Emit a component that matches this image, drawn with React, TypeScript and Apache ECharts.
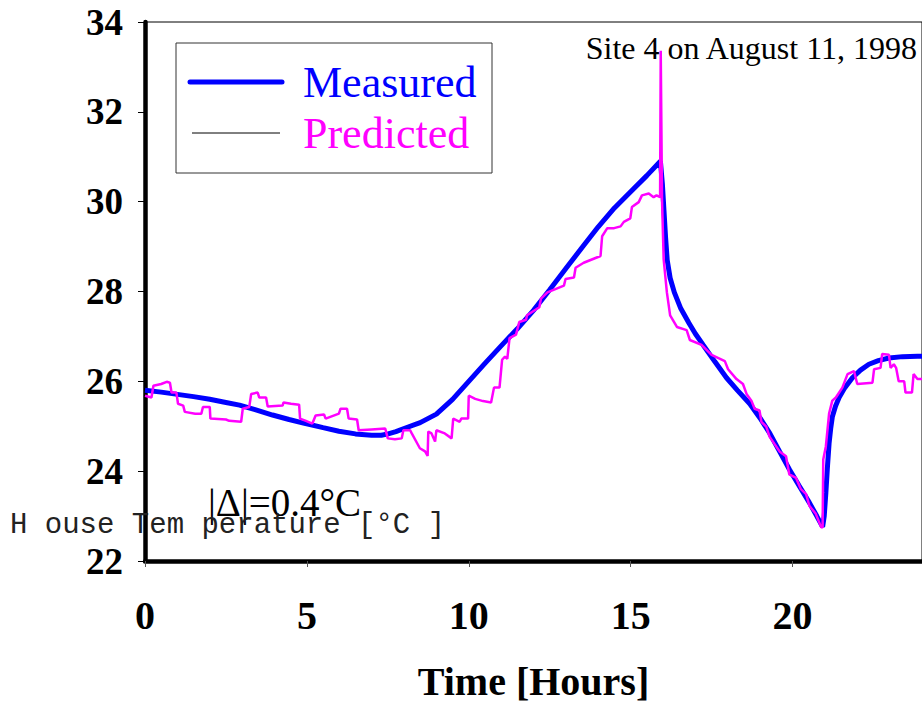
import React, { useEffect, useRef } from "react";
import * as echarts from "echarts";

// Time [hours] and temperature [°C]
const measured: [number, number][] = [
  [0, 25.8], [0.5, 25.76], [1, 25.71], [1.5, 25.66], [2, 25.6], [2.5, 25.53], [2.92, 25.47],
  [3.4, 25.37], [3.94, 25.25], [4.45, 25.15], [4.96, 25.06], [5.5, 24.97], [5.99, 24.89],
  [6.5, 24.83], [7.0, 24.8], [7.3, 24.8], [7.51, 24.83], [7.75, 24.88], [8.0, 24.95],
  [8.5, 25.08], [9.0, 25.27], [9.5, 25.6], [10.0, 26.0], [10.5, 26.4], [11.0, 26.79],
  [11.5, 27.17], [12.0, 27.58], [12.5, 28.04], [13.0, 28.51], [13.5, 28.98], [14.0, 29.44],
  [14.5, 29.86], [15.0, 30.22], [15.5, 30.58], [15.92, 30.9], [15.98, 30.4], [16.03, 29.8],
  [16.08, 29.2], [16.13, 28.7], [16.22, 28.3], [16.35, 27.98], [16.55, 27.62], [16.8, 27.3],
  [17.0, 27.06], [17.24, 26.81], [17.6, 26.44], [17.96, 26.08], [18.3, 25.8], [18.68, 25.5],
  [19.0, 25.18], [19.3, 24.84], [19.6, 24.44], [19.91, 24.03], [20.2, 23.68], [20.52, 23.3],
  [20.75, 23.0], [20.93, 22.76], [20.98, 23.0], [21.03, 23.52], [21.08, 24.1], [21.13, 24.62],
  [21.18, 24.95], [21.23, 25.21], [21.33, 25.45], [21.44, 25.64], [21.6, 25.84], [21.85, 26.08],
  [22.1, 26.25], [22.36, 26.38], [22.65, 26.46], [22.98, 26.52], [23.4, 26.55], [23.86, 26.56],
  [24, 26.56],
];

const predicted: [number, number][] = [
  [0, 25.68], [0.2, 25.64], [0.26, 25.9], [0.5, 25.94], [0.67, 25.99], [0.77, 25.97], [0.82, 25.75],
  [0.97, 25.75], [1.02, 25.5], [1.18, 25.46], [1.23, 25.32], [1.55, 25.28], [1.74, 25.28], [1.79, 25.43],
  [2.0, 25.43], [2.02, 25.17], [2.5, 25.15], [2.6, 25.12], [2.97, 25.1], [3.02, 25.39], [3.22, 25.43],
  [3.28, 25.72], [3.48, 25.75], [3.53, 25.64], [3.74, 25.64], [3.79, 25.44], [4.25, 25.46], [4.28, 25.53],
  [4.51, 25.5], [4.76, 25.48], [4.79, 25.17], [4.97, 25.12], [5.17, 25.06], [5.27, 25.24], [5.53, 25.26],
  [5.58, 25.17], [5.99, 25.28], [6.04, 25.39], [6.24, 25.39], [6.29, 25.17], [6.55, 25.15], [6.6, 24.91],
  [7.0, 24.93], [7.42, 24.95], [7.5, 24.73], [7.72, 24.71], [7.93, 24.73], [7.98, 24.91], [8.19, 24.91],
  [8.24, 24.84], [8.49, 24.51], [8.65, 24.44], [8.73, 24.34], [8.75, 24.88], [8.85, 24.84], [8.96, 24.66],
  [9.0, 24.91], [9.26, 24.84], [9.47, 24.73], [9.52, 25.17], [9.72, 25.1], [9.77, 25.17], [9.98, 25.17],
  [10.0, 25.68], [10.2, 25.61], [10.44, 25.56], [10.69, 25.53], [10.78, 25.86], [10.95, 25.86],
  [11.03, 26.48], [11.12, 26.55], [11.19, 26.5], [11.26, 26.96], [11.46, 27.04], [11.56, 27.32],
  [11.77, 27.37], [11.8, 27.47], [12.18, 27.65], [12.23, 27.84], [12.43, 27.98], [12.94, 28.13],
  [12.99, 28.28], [13.25, 28.31], [13.3, 28.53], [13.55, 28.64], [14.07, 28.79], [14.12, 29.23],
  [14.28, 29.41], [14.49, 29.41], [14.69, 29.45], [14.79, 29.55], [14.99, 29.63], [15.04, 29.88],
  [15.25, 29.99], [15.35, 30.14], [15.56, 30.18], [15.71, 30.1], [15.8, 30.14], [15.91, 30.1],
  [15.93, 33.36], [15.97, 30.03], [16.02, 28.72], [16.12, 27.98], [16.22, 27.47], [16.43, 27.21],
  [16.73, 27.14], [16.83, 26.92], [17.19, 26.81], [17.5, 26.59], [17.91, 26.45], [18.01, 26.27],
  [18.27, 26.05], [18.47, 25.94], [18.58, 25.72], [18.73, 25.57], [18.83, 25.39], [18.98, 25.35],
  [19.04, 25.1], [19.19, 24.99], [19.29, 24.77], [19.6, 24.44], [19.8, 24.33], [19.9, 23.93],
  [20.11, 23.85], [20.26, 23.6], [20.42, 23.49], [20.52, 23.23], [20.72, 23.05], [20.88, 22.76],
  [20.93, 22.74], [20.95, 24.26], [21.03, 24.55], [21.13, 25.28], [21.23, 25.57], [21.34, 25.64],
  [21.54, 25.86], [21.7, 26.16], [21.9, 26.23], [22.0, 25.94], [22.47, 25.97], [22.52, 26.27],
  [22.72, 26.3], [22.77, 26.61], [22.98, 26.59], [23.03, 26.3], [23.13, 26.38], [23.2, 26.3],
  [23.28, 26.0], [23.45, 26.0], [23.49, 25.75], [23.69, 25.75], [23.74, 26.16], [23.86, 26.05],
  [24, 26.05],
];

const xRange = [0, 24];
const xInterval = 5;
const yRange = [22, 34];
const yInterval = 2;

const titleText = "Site 4 on August 11, 1998";
const xName = "Time [Hours]";
const yName = "H ouse Tem perature [°C ]";
const deltaText = "|Δ|=0.4°C";
const seriesNames = ["Measured", "Predicted"];

const SERIF = "'Liberation Serif', 'Times New Roman', serif";
const MONO = "'Liberation Mono', 'Courier New', monospace";

export default function App() {
  const ref = useRef<HTMLDivElement>(null);

  useEffect(() => {
    if (!ref.current) return;
    const chart = echarts.init(ref.current, undefined, { renderer: "svg" });
    chart.setOption({
      animation: false,
      backgroundColor: "#ffffff",
      grid: {
        left: 145,
        top: 22,
        width: 782,
        height: 547,
        show: true,
        borderColor: "#000",
        borderWidth: 1,
        backgroundColor: "transparent",
      },
      xAxis: {
        type: "value",
        min: xRange[0],
        max: xRange[1],
        interval: xInterval,
        name: xName,
        nameLocation: "middle",
        nameGap: 100,
        nameTextStyle: { fontFamily: SERIF, fontWeight: "bold", fontSize: 40, color: "#000" },
        axisLine: { show: true, onZero: false, lineStyle: { color: "#000", width: 4.5 } },
        axisTick: { show: true, inside: false, length: 6, lineStyle: { color: "#555", width: 1 } },
        axisLabel: {
          showMaxLabel: false,
          margin: 34,
          fontFamily: SERIF,
          fontWeight: "bold",
          fontSize: 40,
          color: "#000",
        },
        splitLine: { show: false },
      },
      yAxis: {
        type: "value",
        min: yRange[0],
        max: yRange[1],
        interval: yInterval,
        axisLine: { show: true, onZero: false, lineStyle: { color: "#000", width: 4.5 } },
        axisTick: { show: true, inside: false, length: 7, lineStyle: { color: "#000", width: 1 } },
        axisLabel: {
          margin: 22,
          fontFamily: SERIF,
          fontWeight: "bold",
          fontSize: 37,
          color: "#000",
        },
        splitLine: { show: false },
      },
      series: [
        {
          name: seriesNames[0],
          type: "line",
          data: measured,
          showSymbol: false,
          symbol: "none",
          lineStyle: { color: "#0000ff", width: 5 },
          z: 2,
        },
        {
          name: seriesNames[1],
          type: "line",
          data: predicted,
          showSymbol: false,
          symbol: "none",
          lineStyle: { color: "#ff00ff", width: 2.5 },
          z: 3,
        },
      ],
      graphic: [
        {
          type: "rect",
          shape: { x: 176, y: 43, width: 316, height: 130 },
          style: { fill: "#fff", stroke: "#333", lineWidth: 1 },
          z: 10,
        },
        {
          type: "line",
          shape: { x1: 190, y1: 82, x2: 282, y2: 82 },
          style: { stroke: "#0000ff", lineWidth: 5, lineCap: "round" },
          z: 11,
        },
        {
          type: "line",
          shape: { x1: 192, y1: 133, x2: 280, y2: 133 },
          style: { stroke: "#000", lineWidth: 1 },
          z: 11,
        },
        {
          type: "text",
          x: 303,
          y: 82,
          style: {
            text: seriesNames[0],
            fill: "#0000ff",
            font: `44px ${SERIF}`,
            verticalAlign: "middle",
            align: "left",
          },
          z: 11,
        },
        {
          type: "text",
          x: 303,
          y: 133,
          style: {
            text: seriesNames[1],
            fill: "#ff00ff",
            font: `44px ${SERIF}`,
            verticalAlign: "middle",
            align: "left",
          },
          z: 11,
        },
        {
          type: "text",
          x: 917,
          y: 48,
          style: {
            text: titleText,
            fill: "#000",
            font: `32px ${SERIF}`,
            verticalAlign: "middle",
            align: "right",
          },
          z: 11,
        },
        {
          type: "text",
          x: 208,
          y: 502,
          style: {
            text: deltaText,
            fill: "#000",
            font: `39px ${SERIF}`,
            verticalAlign: "middle",
            align: "left",
          },
          z: 11,
        },
        {
          type: "text",
          x: 10,
          y: 525,
          style: {
            text: yName,
            fill: "#222",
            font: `29px ${MONO}`,
            verticalAlign: "middle",
            align: "left",
          },
          z: 12,
        },
      ],
    });
    return () => chart.dispose();
  }, []);

  return (
    <div
      ref={ref}
      style={{ position: "fixed", left: 0, top: 0, width: 922, height: 706, background: "#fff" }}
    />
  );
}
